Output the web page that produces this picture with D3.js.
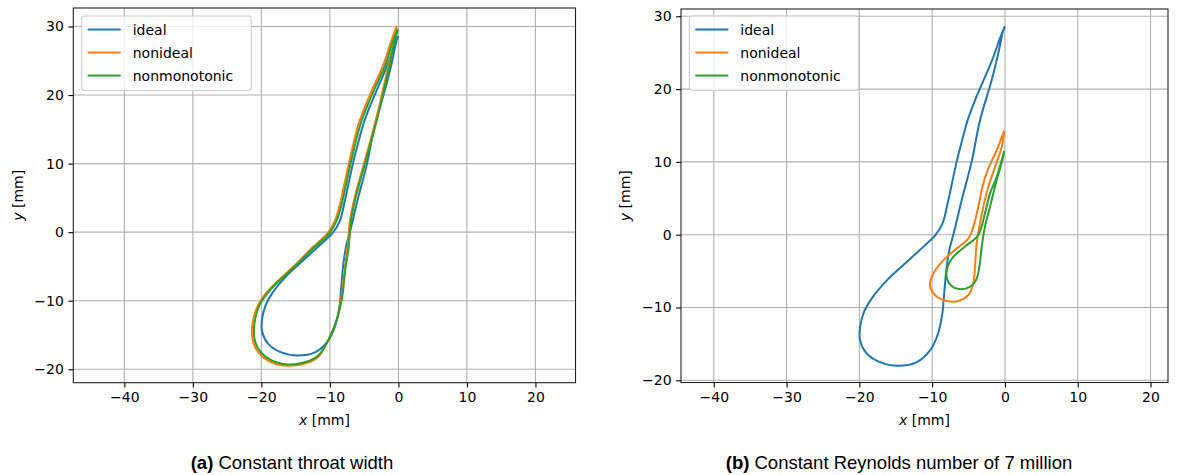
<!DOCTYPE html>
<html>
<head>
<meta charset="utf-8">
<script src="https://cdn.jsdelivr.net/npm/d3@7"></script>
<style>
  body { margin: 0; background: #fff; }
  svg { display: block; }
</style>
</head>
<body>
<div id="chart"></div>
<script>
// ---- data (x, y in mm) ----
const seriesNames = ["ideal", "nonideal", "nonmonotonic"];
const seriesColors = ["#1f77b4", "#ff7f0e", "#2ca02c"];
const xTicks = [-40, -30, -20, -10, 0, 10, 20];
const yTicks = [-20, -10, 0, 10, 20, 30];
const captionsBold = ["(a)", "(b)"];
const captionsText = [" Constant throat width", " Constant Reynolds number of 7 million"];

// ideal profile (same in both panels)
const idealPts = [
  [0, 28.6], [-0.6, 27.2], [-1.6, 24.4], [-2.9, 21.3], [-4.1, 18.5], [-5.1, 15.8],
  [-5.9, 12.9], [-6.64, 10.0], [-7.78, 4.73], [-8.6, 1.5], [-9.6, -0.1], [-11.7, -2.1],
  [-14.0, -4.2], [-16.25, -6.3], [-18.2, -8.6], [-19.4, -10.7], [-19.9, -12.7],
  [-19.9, -14.5], [-19.0, -16.3], [-17.2, -17.5], [-14.7, -18.0], [-12.1, -17.5],
  [-10.3, -15.9], [-9.2, -13.6], [-8.6, -10.8], [-8.35, -8.1], [-8.0, -4.4],
  [-7.55, -1.7], [-7.1, -0.08], [-5.95, 4.73], [-4.58, 10.0], [-3.43, 15.7],
  [-1.83, 21.2], [-0.9, 25.0], [-0.2, 28.2], [0, 28.6]
];

// panel (a): constant throat width
const throatNonideal = [
  [-0.24, 30.1], [-1.1, 27.7], [-2.2, 24.4], [-3.55, 21.4], [-4.6, 19.0], [-5.84, 15.7],
  [-7.0, 11.0], [-8.1, 6.0], [-8.6, 3.8], [-9.3, 1.6], [-10.3, -0.1], [-12.8, -2.5],
  [-15.2, -4.9], [-17.6, -7.1], [-19.4, -9.0], [-20.5, -10.7], [-21.1, -12.4],
  [-21.4, -14.3], [-21.2, -16.0], [-20.4, -17.6], [-18.7, -18.9], [-16.1, -19.5],
  [-13.4, -19.1], [-11.7, -18.2], [-10.2, -15.7], [-9.0, -12.8], [-8.3, -9.4],
  [-7.8, -5.0], [-7.44, -2.6], [-7.05, 1.8], [-6.4, 5.0], [-4.6, 11.5], [-3.15, 16.9],
  [-1.7, 23.2], [-0.48, 28.6], [-0.24, 30.1]
];
const throatNonmono = [
  [-0.05, 29.6], [-0.85, 27.7], [-1.9, 24.4], [-3.25, 21.4], [-4.3, 19.0], [-5.55, 15.7],
  [-6.75, 11.0], [-7.85, 6.0], [-8.35, 3.8], [-9.05, 1.6], [-10.05, -0.15], [-12.6, -2.5],
  [-15.0, -4.9], [-17.4, -7.1], [-19.2, -9.0], [-20.3, -10.7], [-20.85, -12.4],
  [-21.1, -14.3], [-20.9, -16.0], [-20.1, -17.5], [-18.5, -18.7], [-16.0, -19.3],
  [-13.4, -18.9], [-11.7, -18.0], [-10.2, -15.7], [-9.0, -12.8], [-8.2, -9.4],
  [-7.7, -5.0], [-7.3, -2.6], [-6.9, 1.8], [-6.25, 5.0], [-4.45, 11.5], [-3.0, 16.9],
  [-1.55, 23.2], [-0.35, 28.6], [-0.05, 29.6]
];

// panel (b): constant Reynolds number
const reNonideal = [
  [-0.1, 14.3], [-1.14, 11.6], [-2.29, 9.08], [-2.98, 7.02], [-3.67, 3.8], [-4.35, 1.06],
  [-5.04, -0.54], [-6.64, -1.91], [-8.47, -3.52], [-9.85, -5.34], [-10.3, -6.95],
  [-9.6, -8.3], [-8.0, -9.1], [-6.4, -9.1], [-5.04, -8.3], [-4.35, -6.7], [-4.12, -4.44],
  [-3.89, -1.22], [-3.52, 1.06], [-2.98, 3.8], [-2.29, 6.55], [-1.37, 9.3], [-0.45, 12.0],
  [-0.1, 14.3]
];
const reNonmono = [
  [-0.1, 11.5], [-1.14, 7.93], [-2.06, 5.64], [-2.75, 2.9], [-3.67, -0.08], [-5.26, -1.46],
  [-7.1, -3.06], [-8.0, -4.9], [-7.78, -6.5], [-6.64, -7.4], [-5.04, -7.27], [-3.98, -6.26],
  [-3.52, -4.44], [-3.2, -1.69], [-2.75, 1.06], [-2.06, 3.8], [-1.14, 7.47], [-0.32, 10.4],
  [-0.1, 11.5]
];

// ---- layout ----
const width = 1181;
const height = 475;

const panels = [
  { left: 73.3, right: 575.5, top: 8, bottom: 382.7,
    xDomain: [-47.45, 25.85], yDomain: [-21.96, 32.7],
    data: [idealPts, throatNonideal, throatNonmono],
    legendX: 81.7, ylabelX: 18, captionX: 292 },
  { left: 681, right: 1168, top: 9, bottom: 382.5,
    xDomain: [-44.5, 22.4], yDomain: [-20.3, 31.0],
    data: [idealPts, reNonideal, reNonmono],
    legendX: 689.3, ylabelX: 625, captionX: 899 }
];

const svg = d3.select("#chart")
  .append("svg")
  .attr("width", width)
  .attr("height", height)
  .style("font-family", "'DejaVu Sans', sans-serif");

panels.forEach(function (p, i) {
  const x = d3.scaleLinear().domain(p.xDomain).range([p.left, p.right]);
  const y = d3.scaleLinear().domain(p.yDomain).range([p.bottom, p.top]);
  const g = svg.append("g");

  // grid
  g.selectAll(".gx").data(xTicks).enter().append("line")
    .attr("x1", d => x(d)).attr("x2", d => x(d))
    .attr("y1", p.top).attr("y2", p.bottom)
    .attr("stroke", "#b0b0b0").attr("stroke-width", 1.1);
  g.selectAll(".gy").data(yTicks).enter().append("line")
    .attr("x1", p.left).attr("x2", p.right)
    .attr("y1", d => y(d)).attr("y2", d => y(d))
    .attr("stroke", "#b0b0b0").attr("stroke-width", 1.1);

  // curves
  const line = d3.line()
    .x(d => x(d[0]))
    .y(d => y(d[1]))
    .curve(d3.curveCatmullRom.alpha(0.5));

  p.data.forEach(function (pts, k) {
    g.append("path")
      .datum(pts)
      .attr("d", line)
      .attr("fill", "none")
      .attr("stroke", seriesColors[k])
      .attr("stroke-width", 2)
      .attr("stroke-linejoin", "round");
  });

  // axes
  const xAxis = d3.axisBottom(x).tickValues(xTicks).tickSize(4.9).tickPadding(4.5);
  const yAxis = d3.axisLeft(y).tickValues(yTicks).tickSize(4.9).tickPadding(4.5);

  const gx = g.append("g").attr("transform", "translate(0," + p.bottom + ")").call(xAxis);
  const gy = g.append("g").attr("transform", "translate(" + p.left + ",0)").call(yAxis);
  [gx, gy].forEach(function (a) {
    a.select(".domain").remove();
    a.selectAll(".tick line").attr("stroke", "#000").attr("stroke-width", 1.1);
    a.selectAll(".tick text")
      .attr("fill", "#000")
      .style("font-family", "'DejaVu Sans', sans-serif")
      .style("font-size", "14px");
  });

  // frame
  g.append("rect")
    .attr("x", p.left).attr("y", p.top)
    .attr("width", p.right - p.left).attr("height", p.bottom - p.top)
    .attr("fill", "none").attr("stroke", "#222").attr("stroke-width", 1.1);

  // axis labels
  const xl = g.append("text")
    .attr("x", (p.left + p.right) / 2).attr("y", 425)
    .attr("text-anchor", "middle").style("font-size", "14px");
  xl.append("tspan").style("font-style", "italic").text("x");
  xl.append("tspan").text(" [mm]");

  const yl = g.append("text")
    .attr("transform", "translate(" + (p.ylabelX + 5) + "," + ((p.top + p.bottom) / 2) + ") rotate(-90)")
    .attr("text-anchor", "middle").style("font-size", "14px");
  yl.append("tspan").style("font-style", "italic").text("y");
  yl.append("tspan").text(" [mm]");

  // legend
  const lg = g.append("g");
  lg.append("rect")
    .attr("x", p.legendX).attr("y", 16)
    .attr("width", 169.5).attr("height", 74.5)
    .attr("rx", 3)
    .attr("fill", "#fff").attr("fill-opacity", 0.8)
    .attr("stroke", "#cccccc").attr("stroke-width", 1.1);
  seriesNames.forEach(function (name, k) {
    const yy = 29.5 + k * 23;
    lg.append("line")
      .attr("x1", p.legendX + 6).attr("x2", p.legendX + 39)
      .attr("y1", yy).attr("y2", yy)
      .attr("stroke", seriesColors[k]).attr("stroke-width", 2);
    lg.append("text")
      .attr("x", p.legendX + 51).attr("y", yy + 5)
      .style("font-size", "14px")
      .text(name);
  });

  // caption
  const cap = svg.append("text")
    .attr("x", p.captionX).attr("y", 469)
    .attr("text-anchor", "middle")
    .style("font-family", "'Liberation Sans', Arial, sans-serif")
    .style("font-size", "18.5px");
  cap.append("tspan").style("font-weight", "bold").text(captionsBold[i]);
  cap.append("tspan").text(captionsText[i]);
});
</script>
</body>
</html>
